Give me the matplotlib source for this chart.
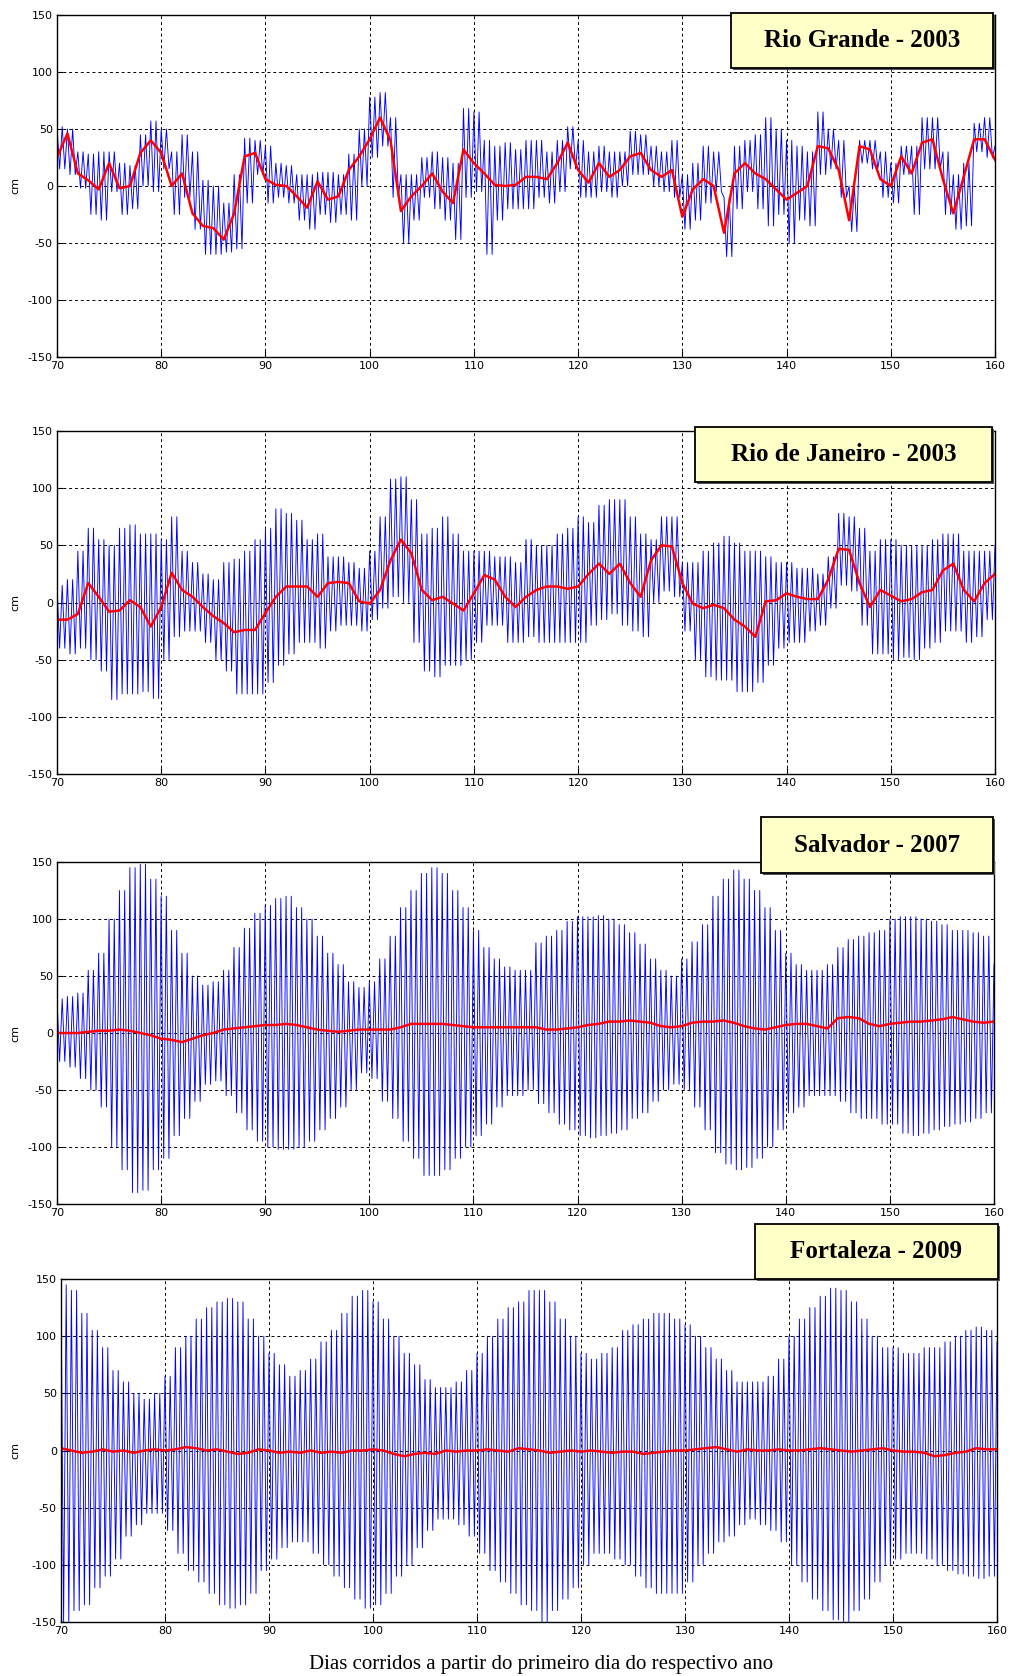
import matplotlib.pyplot as plt
from matplotlib.patches import Rectangle
import numpy as np

plt.rcParams['axes.unicode_minus'] = False

# days 70..160 (one reading per day)
days = list(range(70, 161))

# Rio Grande 2003 - filtered (red), daily max / min of observed (blue)
rg_red = [25, 46, 11, 5, -3, 20, -2, 0, 29, 40,
          29, 0, 11, -24, -35, -37, -47, -24, 26, 29,
          6, 1, 0, -9, -19, 4, -12, -9, 14, 26,
          41, 60, 40, -22, -9, 0, 11, -5, -15, 32,
          20, 11, 1, 0, 1, 8, 8, 6, 20, 38,
          14, 3, 20, 8, 14, 26, 29, 14, 8, 14,
          -27, -3, 6, 0, -41, 11, 20, 11, 6, -3,
          -12, -6, 0, 35, 33, 14, -30, 35, 32, 6,
          0, 26, 11, 38, 41, 6, -24, 8, 41, 41,
          23]
rg_hi = [52, 50, 30, 28, 30, 30, 20, 18, 45, 57,
         50, 30, 45, 30, 5, 0, -15, 10, 42, 40,
         35, 20, 18, 10, 10, 12, 12, 10, 28, 50,
         78, 82, 60, 10, 10, 25, 30, 25, 20, 68,
         65, 40, 35, 38, 32, 40, 40, 30, 40, 52,
         40, 30, 35, 30, 30, 48, 45, 35, 30, 40,
         10, 20, 35, 30, -10, 35, 40, 45, 60, 50,
         40, 35, 30, 65, 50, 40, 0, 40, 40, 30,
         20, 35, 35, 60, 60, 30, 10, 20, 55, 60,
         35]
rg_lo = [15, 10, -2, -25, -30, -5, -25, -20, 0, -5,
         15, -25, -10, -38, -60, -60, -58, -55, -15, 10,
         -15, -10, -15, -30, -38, -25, -32, -25, -30, 0,
         25, 35, -10, -50, -30, -10, -20, -30, -47, -10,
         -5, -60, -30, -20, -20, -20, -10, -15, -5, 15,
         -10, -10, -5, -10, 0, 10, 10, 0, -5, -10,
         -38, -30, -15, -5, -62, -20, -5, -20, -35, -25,
         -50, -30, -35, 10, 15, -10, -40, 20, 15, -10,
         -15, 10, -25, 15, 15, -25, -38, -35, 30, 25,
         -10]

# Rio de Janeiro 2003
rj_red = [-15, -15, -10, 17, 5, -8, -7, 2, -4, -21,
          -4, 26, 11, 5, -4, -12, -18, -26, -24, -24,
          -9, 5, 14, 14, 14, 5, 17, 18, 17, 1,
          -1, 11, 37, 55, 43, 11, 2, 5, -1, -7,
          8, 24, 20, 5, -4, 5, 11, 14, 14, 12,
          14, 25, 34, 25, 34, 17, 5, 37, 50, 49,
          17, -1, -5, -2, -5, -15, -21, -30, 1, 2,
          8, 5, 3, 3, 20, 47, 46, 17, -4, 11,
          6, 1, 3, 9, 11, 28, 34, 11, 1, 17,
          25]
rj_hi = [15, 20, 45, 65, 55, 50, 65, 68, 60, 60,
         55, 75, 45, 35, 25, 20, 35, 38, 45, 55,
         65, 82, 78, 72, 55, 60, 40, 40, 35, 30,
         45, 75, 108, 110, 90, 60, 65, 75, 60, 45,
         45, 45, 40, 40, 35, 55, 50, 50, 60, 65,
         75, 70, 85, 90, 90, 75, 60, 55, 75, 75,
         35, 35, 45, 52, 58, 52, 45, 45, 40, 35,
         35, 30, 30, 25, 40, 78, 75, 65, 45, 55,
         55, 50, 50, 50, 55, 60, 60, 45, 45, 45,
         50]
rj_lo = [-40, -45, -40, -50, -60, -85, -80, -80, -78, -84,
         -50, -30, -25, -25, -35, -50, -60, -80, -80, -80,
         -70, -55, -45, -35, -35, -40, -25, -20, -20, -25,
         -15, -5, 5, 0, -35, -60, -65, -55, -55, -50,
         -35, -20, -20, -35, -35, -30, -35, -35, -35, -35,
         -35, -20, -15, -10, -20, -25, -30, 0, 10, 5,
         -25, -50, -65, -68, -68, -78, -78, -70, -55, -40,
         -35, -35, -25, -20, -5, 15, 10, -20, -45, -45,
         -50, -48, -50, -40, -35, -25, -25, -35, -30, -15,
         -15]

# Salvador 2007
sv_red = [0, 0, 0, 1, 2, 2, 3, 2, 0, -2,
          -5, -6, -8, -5, -2, 0, 3, 4, 5, 6,
          7, 7, 8, 7, 5, 3, 2, 1, 2, 3,
          3, 3, 3, 5, 8, 8, 8, 8, 7, 6,
          5, 5, 5, 5, 5, 5, 5, 3, 3, 4,
          5, 7, 8, 10, 10, 11, 10, 9, 6, 5,
          6, 9, 10, 10, 11, 9, 6, 4, 3, 5,
          7, 8, 8, 6, 4, 13, 14, 13, 8, 6,
          8, 9, 10, 10, 11, 12, 14, 12, 10, 9,
          10]
sv_hi = [30, 32, 35, 55, 70, 100, 125, 145, 148, 135,
         120, 90, 70, 50, 42, 45, 55, 75, 92, 105,
         112, 118, 120, 110, 100, 85, 70, 60, 45, 40,
         45, 65, 85, 110, 125, 140, 145, 140, 125, 110,
         90, 75, 65, 58, 55, 55, 79, 85, 90, 98,
         102, 102, 103, 100, 95, 88, 78, 65, 55, 50,
         65, 80, 95, 120, 135, 143, 135, 125, 110, 90,
         70, 60, 55, 55, 60, 75, 82, 85, 88, 90,
         100, 102, 102, 100, 98, 95, 90, 90, 88, 85,
         60]
sv_lo = [-25, -30, -40, -50, -65, -100, -120, -140, -138, -120,
         -110, -90, -75, -60, -45, -42, -55, -70, -85, -95,
         -100, -102, -102, -100, -95, -85, -75, -65, -50, -35,
         -40, -60, -75, -95, -110, -125, -125, -120, -110, -100,
         -90, -80, -65, -55, -55, -50, -62, -70, -80, -85,
         -90, -92, -90, -88, -85, -75, -70, -60, -50, -45,
         -50, -65, -85, -105, -115, -120, -118, -110, -100, -85,
         -70, -65, -55, -55, -55, -60, -70, -75, -75, -80,
         -80, -88, -90, -88, -85, -82, -80, -78, -75, -70,
         -60]

# Fortaleza 2009
ft_red = [2, 0, -2, -1, 1, -1, 0, -2, 0, 1,
          0, 1, 3, 2, 0, 1, -1, -3, -2, 1,
          0, -2, -1, -2, 0, -2, -1, -2, 0, 0,
          1, 0, -3, -5, -3, -2, -3, 0, -1, 0,
          0, 1, 0, -1, 2, 1, 0, -2, -1, 0,
          -1, 0, -1, -2, -1, -1, -3, -2, -1, 0,
          0, 1, 2, 3, 1, -1, 1, 0, 0, 1,
          0, 0, 1, 2, 1, 0, -1, 0, 1, 2,
          0, -1, -1, -2, -5, -4, -2, -1, 2, 1,
          1]
ft_hi = [145, 140, 120, 105, 90, 70, 60, 50, 45, 50,
         65, 90, 100, 115, 125, 130, 133, 130, 115, 100,
         85, 75, 65, 70, 80, 95, 105, 120, 135, 140,
         130, 115, 100, 85, 75, 62, 55, 55, 60, 70,
         85, 100, 115, 125, 130, 140, 140, 130, 115, 100,
         85, 80, 85, 90, 105, 110, 115, 120, 120, 115,
         110, 100, 90, 80, 70, 60, 60, 60, 65, 80,
         100, 115, 125, 135, 142, 140, 130, 115, 100, 90,
         90, 85, 85, 90, 90, 95, 100, 105, 108, 105,
         95]
ft_lo = [-150, -140, -135, -120, -110, -95, -75, -65, -55, -55,
         -70, -90, -105, -115, -125, -135, -138, -135, -125, -105,
         -95, -85, -80, -80, -90, -100, -110, -120, -130, -138,
         -135, -125, -110, -100, -85, -70, -60, -60, -65, -75,
         -90, -105, -115, -125, -135, -140, -150, -140, -130, -120,
         -100, -90, -90, -95, -100, -110, -120, -125, -125, -125,
         -115, -100, -90, -80, -75, -65, -60, -65, -70, -80,
         -100, -115, -130, -140, -148, -150, -140, -130, -115, -100,
         -95, -90, -90, -95, -100, -105, -108, -110, -112, -110,
         -100]

panels = [
    ("Rio Grande - 2003", rg_red, rg_hi, rg_lo),
    ("Rio de Janeiro - 2003", rj_red, rj_hi, rj_lo),
    ("Salvador - 2007", sv_red, sv_hi, sv_lo),
    ("Fortaleza - 2009", ft_red, ft_hi, ft_lo),
]

W, H = 1010, 1676
# axes boxes in pixels: left, right, top, bottom
ax_px = [(57, 995, 15, 357), (57, 995, 431, 774),
         (57, 994, 862, 1204), (61, 997, 1279, 1622)]
# title boxes in pixels: x0, y0, x1, y1
box_px = [(731, 13, 993, 68), (695, 427, 992, 482),
          (761, 817, 993, 873), (755, 1224, 998, 1279)]

fig = plt.figure(figsize=(W / 100, H / 100), dpi=100)

for (name, red, hi, lo), (l, r, t, b), (x0, y0, x1, y1) in zip(panels, ax_px, box_px):
    ax = fig.add_axes([l / W, 1 - b / H, (r - l) / W, (b - t) / H])

    # observed series: two tidal cycles per day between the daily max and min
    d = np.array(days, dtype=float)
    tb = (d[:-1, None] + np.array([0, 0.25, 0.5, 0.75])).ravel()
    vb = np.column_stack([hi[:-1], lo[:-1], hi[:-1], lo[:-1]]).ravel()
    tb = np.append(tb, d[-1])
    vb = np.append(vb, hi[-1])
    ax.plot(tb, vb, color="#0000ff", lw=0.65)
    ax.plot(d, red, color="#ff0000", lw=1.8)

    ax.set_xlim(70, 160)
    ax.set_ylim(-150, 150)
    ax.set_xticks(range(70, 161, 10))
    ax.set_yticks(range(-150, 151, 50))
    ax.tick_params(direction="in", labelsize=8, length=4, pad=3)
    ax.grid(True, color="black", linestyle=(0, (3, 3)), linewidth=0.7)
    for s in ax.spines.values():
        s.set_linewidth(1.0)
    fig.text(15 / W, 1 - (t + b) / 2 / H, "cm", rotation=90,
             ha="center", va="center", fontsize=8)

    # label box with shadow
    fig.patches.append(Rectangle((x0 / W + 2 / W, 1 - y1 / H - 2 / H),
                                 (x1 - x0) / W, (y1 - y0) / H,
                                 transform=fig.transFigure, facecolor="#555555",
                                 edgecolor="none", zorder=5))
    fig.patches.append(Rectangle((x0 / W, 1 - y1 / H), (x1 - x0) / W, (y1 - y0) / H,
                                 transform=fig.transFigure, facecolor="#ffffc8",
                                 edgecolor="black", lw=1.3, zorder=6))
    fig.text((x0 + x1) / 2 / W, 1 - (y0 + y1) / 2 / H, name,
             ha="center", va="center", fontsize=18, fontweight="bold",
             family="Liberation Serif", zorder=7)

fig.text(541 / W, 1 - 1664 / H, "Dias corridos a partir do primeiro dia do respectivo ano",
         ha="center", va="center", fontsize=15, family="Liberation Serif")

fig.savefig("out.png", dpi=100)
